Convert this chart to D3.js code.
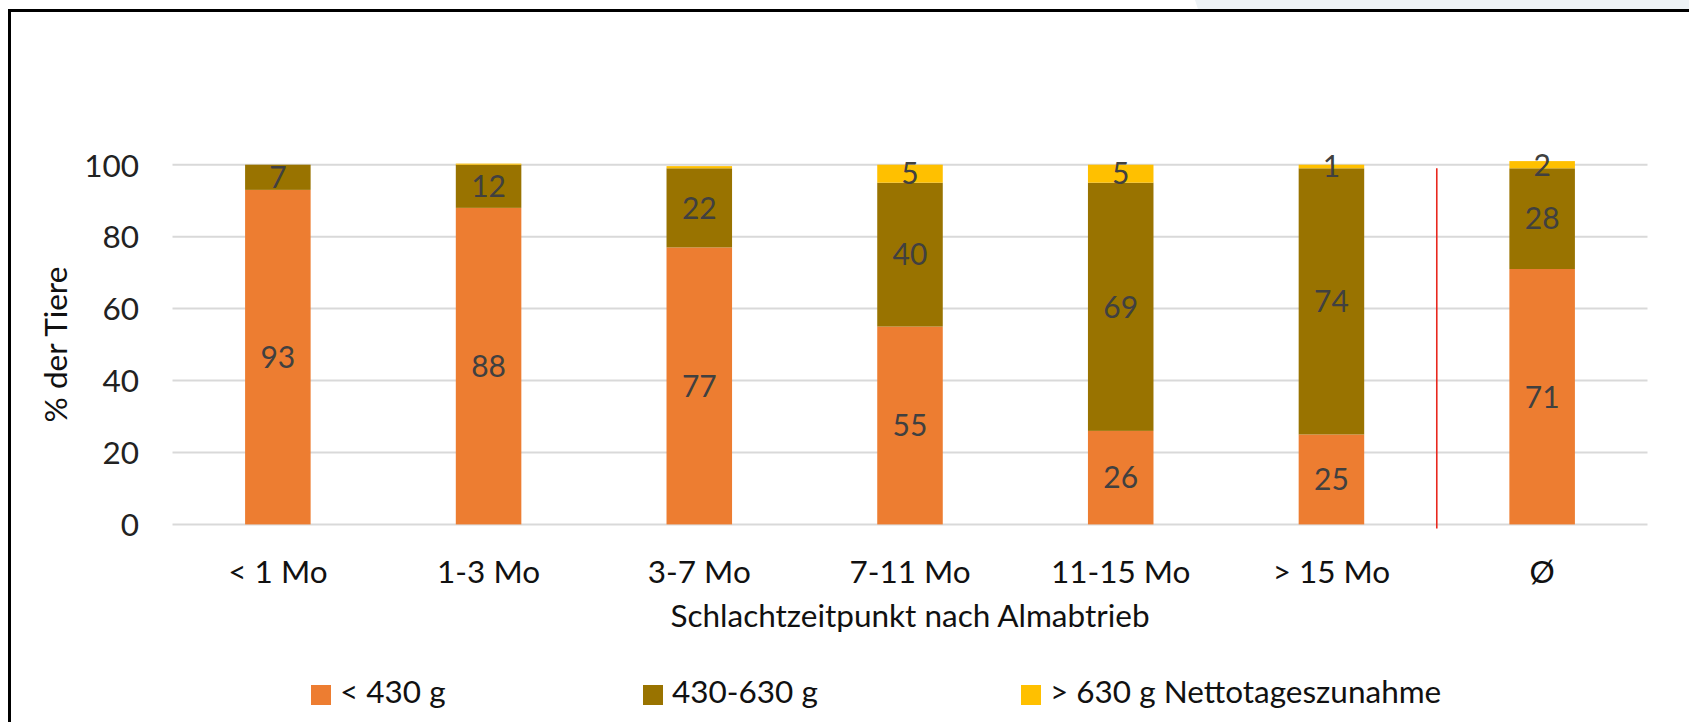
<!DOCTYPE html>
<html lang="de">
<head>
<meta charset="utf-8">
<title>Nettotageszunahme nach Schlachtzeitpunkt</title>
<script src="https://cdn.jsdelivr.net/npm/d3@7/dist/d3.min.js"></script>
<style>
  html, body { margin: 0; padding: 0; background: #fff; }
  svg { display: block; }
  text { font-family: Lato, "Open Sans", sans-serif; }
</style>
</head>
<body>
<svg id="chart" width="1689" height="722"></svg>
<script>
// Kategorien: Schlachtzeitpunkt nach Almabtrieb, letzte Spalte = Durchschnitt
const categories = ["< 1 Mo", "1-3 Mo", "3-7 Mo", "7-11 Mo", "11-15 Mo", "> 15 Mo", "Ø"];
const seriesNames = ["< 430 g", "430-630 g", "> 630 g Nettotageszunahme"];
// Anteil der Tiere (%) je Zunahmeklasse
const lowGain  = [93, 88, 77, 55, 26, 25, 71];
const midGain  = [7, 12, 22, 40, 69, 74, 28];
const highGain = [0, 0.3, 0.6, 5, 5, 1, 2];
const yTicks = [0, 20, 40, 60, 80, 100];
const colors = ["#ED7D31", "#997300", "#FFC000"];

const svg = d3.select("#chart");
const W = 1689, H = 722;
const plot = { left: 172.5, right: 1647.5, top: 164.7, bottom: 524.4 };
const FS = 31.5;

// Hintergrund und Rahmen
svg.append("rect").attr("width", W).attr("height", H).attr("fill", "#fff");
svg.append("polygon")
  .attr("points", [[1195, 0], [W, 0], [W, 9], [1198, 9]].map(p => p.join(",")).join(" "))
  .attr("fill", "#eef3f6");
svg.append("line").attr("x1", 8).attr("x2", W).attr("y1", 10.5).attr("y2", 10.5)
  .attr("stroke", "#000").attr("stroke-width", 3);
svg.append("line").attr("x1", 9.5).attr("x2", 9.5).attr("y1", 9).attr("y2", H)
  .attr("stroke", "#000").attr("stroke-width", 3);

const x = d3.scaleBand()
  .domain(categories)
  .range([plot.left, plot.right])
  .paddingInner(0.689)
  .paddingOuter(0.3445);

const y = d3.scaleLinear().domain([0, 100]).range([plot.bottom, plot.top]);

// Gitterlinien
svg.append("g")
  .selectAll("line")
  .data(yTicks)
  .join("line")
  .attr("x1", plot.left).attr("x2", plot.right)
  .attr("y1", d => y(d)).attr("y2", d => y(d))
  .attr("stroke", "#d9d9d9").attr("stroke-width", 2);

// Y-Achse (nur Beschriftung)
const yAxis = d3.axisLeft(y).tickValues(yTicks).tickSize(0).tickPadding(0).tickFormat(d3.format("d"));
const yg = svg.append("g").attr("transform", "translate(139,0)").call(yAxis);
yg.select(".domain").remove();
yg.selectAll("text")
  .attr("font-family", "Lato, 'Open Sans', sans-serif")
  .attr("font-size", FS).attr("fill", "#222").attr("dy", "0.36em");

// Gestapelte Säulen
const rows = categories.map((c, i) => ({ cat: c, s0: lowGain[i], s1: midGain[i], s2: highGain[i] }));
const stack = d3.stack().keys(["s0", "s1", "s2"]);
const layers = stack(rows);

const layerG = svg.append("g")
  .selectAll("g")
  .data(layers)
  .join("g")
  .attr("fill", (d, i) => colors[i]);

layerG.selectAll("rect")
  .data(d => d)
  .join("rect")
  .attr("x", d => x(d.data.cat))
  .attr("width", x.bandwidth())
  .attr("y", d => y(d[1]))
  .attr("height", d => Math.max(0, y(d[0]) - y(d[1])));

// Datenbeschriftungen in der Mitte jedes Segments
const labels = [];
layers.forEach(layer => {
  layer.forEach(d => {
    const v = d.data[layer.key];
    if (v >= 1) labels.push({ cat: d.data.cat, v, mid: (d[0] + d[1]) / 2 });
  });
});
svg.append("g")
  .selectAll("text")
  .data(labels)
  .join("text")
  .attr("x", d => x(d.cat) + x.bandwidth() / 2)
  .attr("y", d => y(d.mid))
  .attr("dy", "0.36em")
  .attr("text-anchor", "middle")
  .attr("font-size", 30)
  .attr("fill", "#404040")
  .text(d => d3.format("d")(d.v));

// Trennlinie vor dem Durchschnitt
const sepX = x(categories[6]) - x.step() * x.paddingInner() / 2;
svg.append("line")
  .attr("x1", sepX).attr("x2", sepX)
  .attr("y1", y(99)).attr("y2", plot.bottom + 4)
  .attr("stroke", "#e8281e").attr("stroke-width", 1.6);

// X-Achse (Kategorien)
const xAxis = d3.axisBottom(x).tickSize(0).tickPadding(0);
const xg = svg.append("g").attr("transform", "translate(0,583)").call(xAxis);
xg.select(".domain").remove();
xg.selectAll("text")
  .attr("font-family", "Lato, 'Open Sans', sans-serif")
  .attr("font-size", FS).attr("fill", "#111").attr("dy", 0);

// Achsentitel
svg.append("text")
  .attr("x", (plot.left + plot.right) / 2).attr("y", 627)
  .attr("text-anchor", "middle").attr("font-size", FS).attr("fill", "#111")
  .text("Schlachtzeitpunkt nach Almabtrieb");

svg.append("text")
  .attr("transform", `translate(56,${(plot.top + plot.bottom) / 2}) rotate(-90)`)
  .attr("text-anchor", "middle").attr("dy", "0.36em")
  .attr("font-size", FS).attr("fill", "#111")
  .text("% der Tiere");

// Legende
const legendX = [311, 643, 1021];
const lg = svg.append("g")
  .selectAll("g")
  .data(seriesNames)
  .join("g")
  .attr("transform", (d, i) => `translate(${legendX[i]},685)`);
lg.append("rect").attr("width", 20).attr("height", 20).attr("fill", (d, i) => colors[i]);
lg.append("text").attr("x", 29).attr("y", 18)
  .attr("font-size", FS).attr("fill", "#111")
  .text(d => d);
</script>
</body>
</html>
